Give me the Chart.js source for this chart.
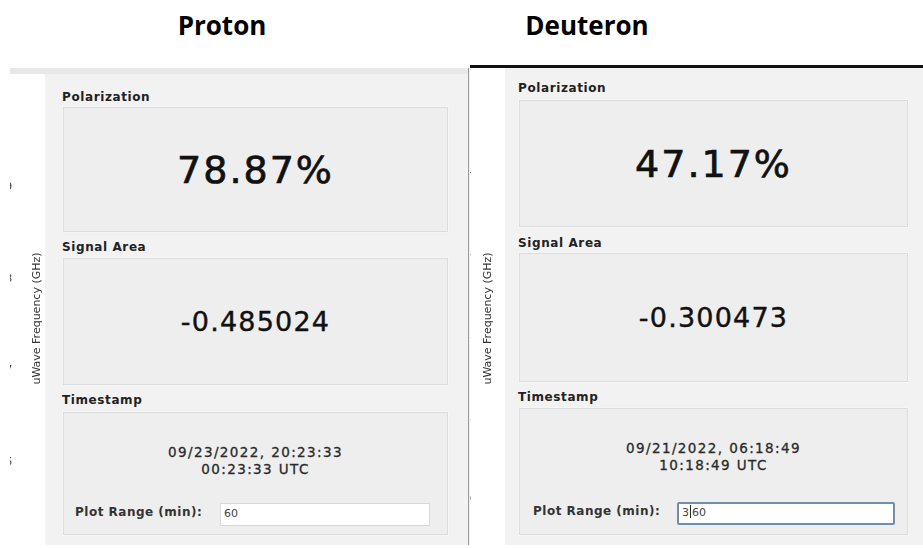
<!DOCTYPE html>
<html>
<head>
<meta charset="utf-8">
<script src="https://cdn.jsdelivr.net/npm/chart.js@4.4.0/dist/chart.umd.min.js"></script>
<style>
  html, body { margin: 0; padding: 0; background: #fff; width: 923px; height: 548px; overflow: hidden; }
  body { position: relative; font-family: "DejaVu Sans", sans-serif; color: #1a1a1a; }
  .abs { position: absolute; }
  .head { font-family: "Open Sans", sans-serif; font-weight: 700; font-size: 26px; width: 200px; text-align: center; color: #000; }
  .shot { background: #f2f2f2; }
  .strip { background: #fff; overflow: hidden; }
  .lbl { font-weight: 700; font-size: 12px; letter-spacing: 0.6px; color: #222; white-space: nowrap; }
  .box { background: #eeeeee; border: 1px solid #dcdcdc; box-shadow: 0 0 0 1px #f6f6f6; box-sizing: border-box; display: flex; align-items: center; justify-content: center; }
  .big { font-size: 38px; letter-spacing: 2px; color: #111; -webkit-text-stroke: 0.7px #111; }
  .mid { font-size: 27px; letter-spacing: 1.2px; color: #111; -webkit-text-stroke: 0.4px #111; }
  .ts { font-size: 13.5px; letter-spacing: 1.4px; line-height: 17px; text-align: center; color: #2a2a2a; -webkit-text-stroke: 0.3px #2a2a2a; }
  .pr { font-size: 12px; font-weight: 700; letter-spacing: 0.5px; color: #333; white-space: nowrap; }
  .inp { background: #fff; border: 1px solid #d8d8d8; box-sizing: border-box; font-size: 11px; color: #444; padding-left: 3px; line-height: 20px; }
  .inp.focus { border: 2px solid #6f8fb0; border-radius: 2px; line-height: 18px; }
  .caret { display: inline-block; width: 1px; height: 13px; background: #222; vertical-align: -2px; margin: 0 1px; }
</style>
</head>
<body>
<script>
// values shown in the two readout panels
const panelNames = ['Proton', 'Deuteron'];
const polarization = [78.87, 47.17];
const signalArea = ['-0.485024', '-0.300473'];
const localTime = ['09/23/2022, 20:23:33', '09/21/2022, 06:18:49'];
const utcTime = ['00:23:33 UTC', '10:18:49 UTC'];
const plotRange = ['60', '360'];
// cut-off uWave frequency axis of the plots next to the panels
const protonFreqTicks = [140.29, 140.28, 140.27, 140.26];
const deuteronFreqTicks = [32.24, 32.23, 32.22, 32.21, 32.20];
const freqAxisTitle = 'uWave Frequency (GHz)';

// layout of each screenshot
const layouts = [
  {
    head: 222, shot: [10, 68, 458, 477], strip: [10, 74, 35, 471], band: true,
    lblX: 62, boxX: 63, boxW: 385,
    rows: [[92, 107, 125], [242, 258, 127], [395, 412, 123]],
    prX: 75, prY: 507, inp: [220, 503, 210, 23],
    axis: { ticks: protonFreqTicks, min: 140.251895, max: 140.302105, titleOff: 22, padRight: 30, canvasTop: 68 }
  },
  {
    head: 587, shot: [469, 68, 454, 477], strip: [470, 68, 35, 477], band: false,
    lblX: 518, boxX: 519, boxW: 389,
    rows: [[83, 100, 127], [238, 253, 129], [392, 408, 127]],
    prX: 533, prY: 506, inp: [677, 502, 218, 23],
    axis: { ticks: deuteronFreqTicks, min: 32.195529, max: 32.251647, titleOff: 14, padRight: 31, canvasTop: 68 }
  }
];

function el(cls, x, y, w, h, html) {
  const d = document.createElement('div');
  d.className = 'abs ' + cls;
  d.style.left = x + 'px';
  d.style.top = y + 'px';
  if (w != null) d.style.width = w + 'px';
  if (h != null) d.style.height = h + 'px';
  if (html != null) d.innerHTML = html;
  document.body.appendChild(d);
  return d;
}

// draws the axis title reading upwards, to the right of the tick labels
const uprightTitle = {
  id: 'uprightTitle',
  afterDraw(chart, args, opts) {
    const s = chart.scales.y;
    const ctx = chart.ctx;
    ctx.save();
    ctx.translate(s.right + opts.offset, (s.top + s.bottom) / 2 + 12);
    ctx.rotate(-Math.PI / 2);
    ctx.font = '11px "DejaVu Sans"';
    ctx.fillStyle = '#333';
    ctx.textAlign = 'center';
    ctx.textBaseline = 'middle';
    ctx.fillText(opts.text, 0, 0);
    ctx.restore();
  }
};

layouts.forEach((L, i) => {
  el('head', L.head - 100, 7, 200, null, panelNames[i]);
  el('shot', ...L.shot);
  if (L.band) el('', L.shot[0], L.shot[1], L.shot[2], 6).style.background = '#e8e8e8';
  if (i === 1) {
    el('', 470, 65, 453, 3).style.background = '#111';
    el('', 468, 68, 1, 477).style.background = '#9a9a9a';
  }

  // strip holding the clipped frequency axis
  const strip = el('strip', ...L.strip);
  const cw = 240;
  const holder = document.createElement('div');
  holder.style.position = 'absolute';
  holder.style.left = (L.strip[2] - cw) + 'px';
  holder.style.top = (L.axis.canvasTop - L.strip[1]) + 'px';
  const cv = document.createElement('canvas');
  cv.width = cw;
  cv.height = 477;
  holder.appendChild(cv);
  strip.appendChild(holder);

  new Chart(cv, {
    type: 'line',
    data: { labels: ['a', 'b'], datasets: [] },
    options: {
      responsive: false,
      animation: false,
      layout: { padding: { left: 0, right: L.axis.padRight, top: 0, bottom: 0 } },
      plugins: { legend: { display: false }, tooltip: { enabled: false },
        uprightTitle: { text: freqAxisTitle, offset: L.axis.titleOff } },
      scales: {
        x: { display: false },
        y: {
          position: 'right',
          min: L.axis.min,
          max: L.axis.max,
          grid: { display: false },
          border: { display: false },
          afterBuildTicks: axis => { axis.ticks = L.axis.ticks.map(v => ({ value: v })); },
          ticks: { color: '#333', font: { family: 'DejaVu Sans', size: 10 }, callback: v => v.toFixed(2) }
        }
      }
    },
    plugins: [uprightTitle]
  });

  const [pRow, sRow, tRow] = L.rows;
  el('lbl', L.lblX, pRow[0] - 2, null, null, 'Polarization');
  el('box', L.boxX, pRow[1], L.boxW, pRow[2], '<span class="big">' + polarization[i].toFixed(2) + '%</span>');
  el('lbl', L.lblX, sRow[0] - 2, null, null, 'Signal Area');
  el('box', L.boxX, sRow[1], L.boxW, sRow[2], '<span class="mid">' + signalArea[i] + '</span>');
  el('lbl', L.lblX, tRow[0] - 2, null, null, 'Timestamp');
  const tb = el('box', L.boxX, tRow[1], L.boxW, tRow[2]);
  tb.style.alignItems = 'flex-start';
  tb.innerHTML = '<div class="ts" style="margin-top:31px">' + localTime[i] + '<br>' + utcTime[i] + '</div>';
  el('pr', L.prX, L.prY - 2, null, null, 'Plot Range (min):');
  const [ix, iy, iw, ih] = L.inp;
  const inp = el('inp' + (i === 1 ? ' focus' : ''), ix, iy, iw, ih);
  inp.innerHTML = i === 1
    ? plotRange[i].slice(0, 1) + '<span class="caret"></span>' + plotRange[i].slice(1)
    : plotRange[i];
});
</script>
</body>
</html>
